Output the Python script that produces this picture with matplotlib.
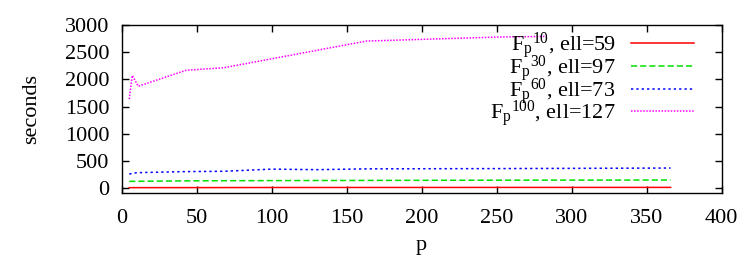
import matplotlib
matplotlib.use('Agg')
import matplotlib.pyplot as plt

plt.rcParams['font.family'] = ['Liberation Serif', 'DejaVu Serif']
plt.rcParams['mathtext.fontset'] = 'custom'
plt.rcParams['mathtext.rm'] = 'Liberation Serif'
plt.rcParams['mathtext.it'] = 'Liberation Serif:italic'

# series
p_red = [5, 50, 100, 200, 366]
t_red = [15, 16, 18, 19, 20]

p_green = [5, 43, 100, 163, 252, 366]
t_green = [130, 140, 145, 148, 152, 155]

p_blue = [5, 10, 43, 68, 100, 130, 163, 252, 366]
t_blue = [265, 290, 310, 315, 355, 345, 360, 365, 375]

p_mag = [5, 7, 11, 43, 68, 100, 163, 252, 282]
t_mag = [1640, 2075, 1876, 2170, 2215, 2380, 2705, 2780, 2790]

labels = [r'F$_\mathrm{p}{}^\mathrm{10}$, ell=59',
          r'F$_\mathrm{p}{}^\mathrm{30}$, ell=97',
          r'F$_\mathrm{p}{}^\mathrm{60}$, ell=73',
          r'F$_\mathrm{p}{}^\mathrm{100}$, ell=127']

fs = 16

fig = plt.figure(figsize=(7.47, 2.66), dpi=100)
ax = fig.add_axes([0.163, 0.273, 0.803, 0.633])

ax.plot(p_red, t_red, color='#ff0000', lw=1.1, label=labels[0])
ax.plot(p_green, t_green, color='#00e000', lw=1.1, dashes=(4, 2), label=labels[1])
ax.plot(p_blue, t_blue, color='#0000ff', lw=1.1, dashes=(1.5, 2), label=labels[2])
ax.plot(p_mag, t_mag, color='#ff00ff', lw=1.1, dashes=(1, 1), label=labels[3])

ax.set_xlim(0, 400)
ax.set_ylim(-90, 3000)
ax.set_xticks(range(0, 401, 50))
ax.set_yticks(range(0, 3001, 500))
ax.tick_params(direction='in', top=True, right=True, length=5, width=1,
               labelsize=fs)
ax.tick_params(axis='x', pad=11)
ax.tick_params(axis='y', pad=9)
for s in ax.spines.values():
    s.set_linewidth(1)

ax.set_xlabel('p', fontsize=fs, labelpad=6)
ax.set_ylabel('seconds', fontsize=fs, labelpad=17)

ax.legend(loc='upper right', markerfirst=False, frameon=False, fontsize=fs,
          handlelength=2.8, handletextpad=0.7, labelspacing=-0.36,
          borderaxespad=0.0, bbox_to_anchor=(0.968, 1.02))

fig.savefig('out.png', dpi=100)
